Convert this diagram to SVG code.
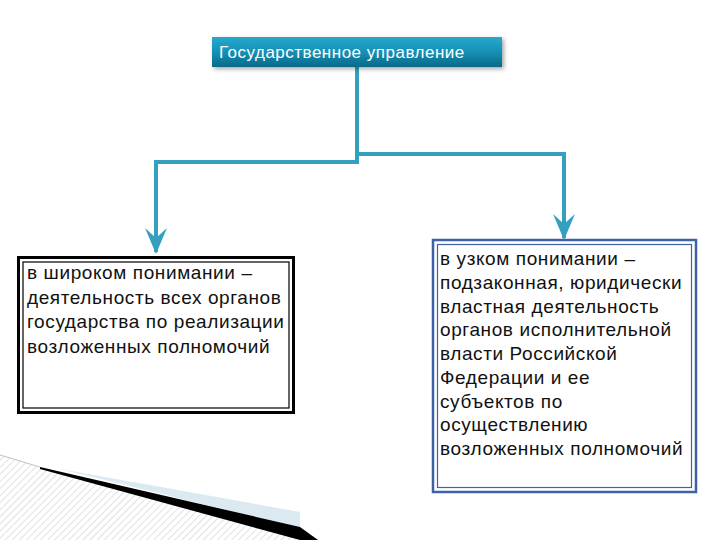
<svg xmlns="http://www.w3.org/2000/svg" width="720" height="540" viewBox="0 0 720 540">
<defs>
<linearGradient id="tg" x1="0" y1="0" x2="0" y2="1">
<stop offset="0" stop-color="#27a9cd"/>
<stop offset="0.5" stop-color="#1590b6"/>
<stop offset="1" stop-color="#0b6987"/>
</linearGradient>
<pattern id="hatch" width="5" height="5" patternUnits="userSpaceOnUse" patternTransform="rotate(45)">
<rect width="5" height="5" fill="#ffffff"/>
<line x1="0" y1="0" x2="0" y2="5" stroke="#d4d8dc" stroke-width="1.5"/>
</pattern>
<marker id="ah" viewBox="0 0 26 22" refX="24" refY="11" markerWidth="26" markerHeight="22" markerUnits="userSpaceOnUse" orient="auto">
<path d="M0,0 L10,11 L0,22 L26,11 Z" fill="#34a0c0"/>
</marker>
<filter id="sh" x="-5%" y="-20%" width="115%" height="160%">
<feDropShadow dx="2" dy="2" stdDeviation="2" flood-color="#000" flood-opacity="0.35"/>
</filter>
<style>
.t{font-family:"Liberation Sans",Arial,sans-serif;font-size:19px;letter-spacing:0.6px;fill:#111;}
.tt{font-family:"Liberation Sans",Arial,sans-serif;font-size:17px;letter-spacing:0.5px;fill:#fff;}
.c{fill:none;stroke:#34a0c0;stroke-width:4;stroke-linejoin:miter;}
</style>
</defs>
<rect width="720" height="540" fill="#fff"/>
<g id="decor">
<polygon points="0,455 40,467 300,530 312,540 0,540" fill="url(#hatch)"/>
<polyline points="0,455 40,467" fill="none" stroke="#aab4bc" stroke-width="0.8"/>
<polygon points="60,469 300,512 300,528" fill="#dbe9f1"/>
<polygon points="40,467 300,527 318,540 300,540 40,469" fill="#000"/>
</g>
<g id="connectors">
<path class="c" d="M357,67 V162 H156 V252" marker-end="url(#ah)"/>
<path class="c" d="M357,154 H564 V238" marker-end="url(#ah)"/>
</g>
<g id="title">
<rect x="212" y="37" width="290" height="30" fill="url(#tg)" filter="url(#sh)"/>
<text class="tt" x="219" y="58">Государственное управление</text>
</g>
<g id="broad">
<rect x="18.5" y="257.5" width="275" height="155" fill="#fff" stroke="#000" stroke-width="3"/>
<rect x="23" y="262" width="266" height="146" fill="none" stroke="#000" stroke-width="1.2"/>
<text class="t"><tspan x="27" y="279">в широком понимании –</tspan><tspan x="27" y="303.5">деятельность всех органов</tspan><tspan x="27" y="328">государства по реализации</tspan><tspan x="27" y="352.5">возложенных полномочий</tspan></text>
</g>
<g id="narrow">
<rect x="433" y="240" width="263" height="252" fill="#fff" stroke="#3d62a6" stroke-width="2.5"/>
<rect x="437.5" y="244.5" width="254" height="243" fill="none" stroke="#3d62a6" stroke-width="1.2"/>
<text class="t"><tspan x="440" y="265">в узком понимании –</tspan><tspan x="440" y="288.75">подзаконная, юридически</tspan><tspan x="440" y="312.5">властная деятельность</tspan><tspan x="440" y="336.25">органов исполнительной</tspan><tspan x="440" y="360">власти Российской</tspan><tspan x="440" y="383.75">Федерации и ее</tspan><tspan x="440" y="407.5">субъектов по</tspan><tspan x="440" y="431.25">осуществлению</tspan><tspan x="440" y="455">возложенных полномочий</tspan></text>
</g>
</svg>
